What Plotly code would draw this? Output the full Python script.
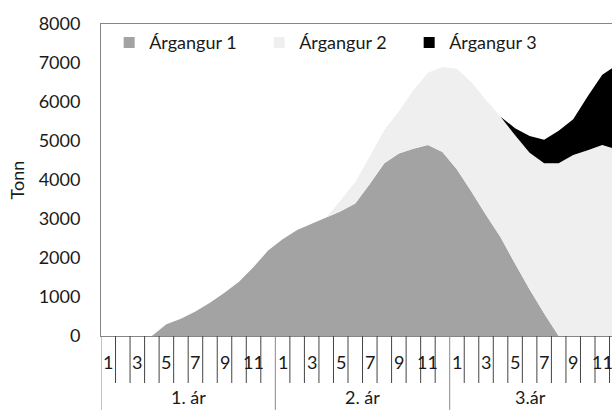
import plotly.graph_objects as go

# ---- data ----
years = ["1. ár", "2. ár", "3.ár"]
month_labels = ["1", "", "3", "", "5", "", "7", "", "9", "", "11", ""]
months = list(range(1, 37))  # running month index over three years

argangur1 = [0, 0, 0, 0, 300, 440, 630, 850, 1110, 1390, 1770, 2190,
             2480, 2720, 2880, 3040, 3200, 3400, 3900, 4430, 4680, 4800, 4900, 4720,
             4270, 3700, 3100, 2530, 1850, 1190, 580, 0, 0, 0, 0, 0]
argangur2 = [0, 0, 0, 0, 0, 0, 0, 0, 0, 0, 0, 0,
             0, 0, 0, 0, 280, 550, 700, 850, 1080, 1500, 1850, 2180,
             2580, 2800, 2950, 3090, 3300, 3510, 3850, 4430, 4640, 4760, 4900, 4780]
argangur3 = [0, 0, 0, 0, 0, 0, 0, 0, 0, 0, 0, 0,
             0, 0, 0, 0, 0, 0, 0, 0, 0, 0, 0, 0,
             0, 0, 0, 0, 180, 430, 600, 830, 920, 1390, 1800, 2170]

series = [("Árgangur 1", argangur1, "#A3A3A3"),
          ("Árgangur 2", argangur2, "#EFEFEF"),
          ("Árgangur 3", argangur3, "#000000")]

FONT = "Lato"
FS = 18
TXT = "#1a1a1a"
X_MAX = 35.67   # visible end of the category axis (chart is cut on the right)

fig = go.Figure()
for name, vals, col in series:
    fig.add_trace(go.Scatter(x=months, y=vals, stackgroup="one", mode="none",
                             fillcolor=col, line=dict(width=0), name=name,
                             showlegend=False))
    fig.add_trace(go.Scatter(x=[None], y=[None], mode="markers", name=name,
                             marker=dict(symbol="square", size=11, color=col,
                                         line=dict(width=0))))

# multi-level category axis drawn from the month / year lists
shapes = []
annotations = []
n_per_year = len(month_labels)
for i in range(len(months) + 1):
    is_year = i % n_per_year == 0
    shapes.append(dict(type="line", xref="x", yref="paper",
                       x0=0.5 + i, x1=0.5 + i, y0=0,
                       y1=-0.237 if is_year else -0.1506,
                       line=dict(color="#444444" if not is_year else "#8a8a8a", width=1)))
for yi, yname in enumerate(years):
    for mi, lab in enumerate(month_labels):
        if lab:
            annotations.append(dict(x=yi * n_per_year + mi + 1, y=-0.083, xref="x", yref="paper",
                                    text=lab, showarrow=False, xanchor="center", yanchor="middle",
                                    font=dict(family=FONT, size=FS, color=TXT)))
    x0 = yi * n_per_year + 0.5
    x1 = min(x0 + n_per_year, X_MAX)
    annotations.append(dict(x=(x0 + x1) / 2, y=-0.196, xref="x", yref="paper",
                            text=yname, showarrow=False, xanchor="center", yanchor="middle",
                            font=dict(family=FONT, size=FS, color=TXT)))

fig.update_layout(
    width=612, height=410,
    margin=dict(l=101, r=0, t=24, b=74, pad=0),
    paper_bgcolor="white", plot_bgcolor="white",
    font=dict(family=FONT, size=FS, color=TXT),
    shapes=shapes, annotations=annotations,
    legend=dict(orientation="h", x=0.016, y=0.94, xanchor="left", yanchor="middle",
                traceorder="normal", entrywidth=105, entrywidthmode="pixels",
                bgcolor="rgba(0,0,0,0)", font=dict(family=FONT, size=FS, color=TXT),
                itemwidth=30),
    xaxis=dict(range=[0.5, X_MAX], showticklabels=False, showgrid=False, zeroline=False,
               showline=True, linecolor="#868686", linewidth=1, mirror=True, ticks=""),
    yaxis=dict(range=[0, 8000], dtick=1000, tick0=0, showgrid=False, zeroline=False,
               showline=True, linecolor="#868686", linewidth=1, automargin=False,
               ticks="outside", ticklen=16, tickcolor="rgba(0,0,0,0)",
               tickfont=dict(family=FONT, size=FS, color=TXT),
               title=dict(text="Tonn", standoff=9, font=dict(family=FONT, size=FS, color=TXT))),
)

fig.write_html("out.html", config={"displayModeBar": False},
               post_script="document.body.style.margin='0';document.body.style.overflow='hidden';")
